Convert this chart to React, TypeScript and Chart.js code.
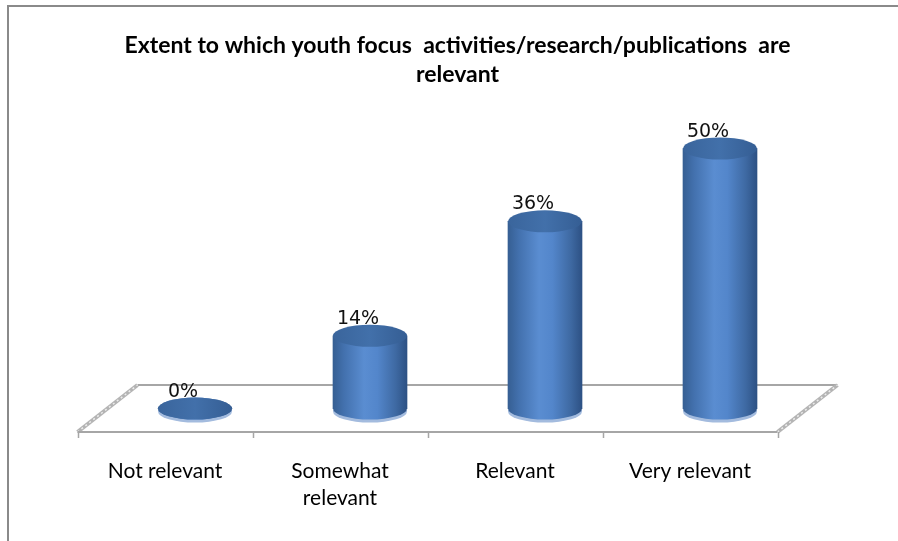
import { useEffect, useRef } from "react";
import { Chart, registerables } from "chart.js";

Chart.register(...registerables);

const categories: string[][] = [["Not relevant"], ["Somewhat", "relevant"], ["Relevant"], ["Very relevant"]];
const values: number[] = [0, 14, 36, 50];
const titleLines: string[] = ["Extent to which youth focus  activities/research/publications  are", "relevant"];
const yMin = -4.5;
const yMax = 60;

const DEPTH_X = 60;
const DEPTH_Y = 47;
const RY = 11;

function bodyGradient(ctx: CanvasRenderingContext2D, x: number, w: number) {
  const g = ctx.createLinearGradient(x - w / 2, 0, x + w / 2, 0);
  g.addColorStop(0, "#365f93");
  g.addColorStop(0.15, "#4371ae");
  g.addColorStop(0.42, "#5a8dd1");
  g.addColorStop(0.6, "#5386cb");
  g.addColorStop(0.85, "#3e69a2");
  g.addColorStop(1, "#2d5184");
  return g;
}

export default function App() {
  const ref = useRef<HTMLCanvasElement>(null);

  useEffect(() => {
    const canvas = ref.current!;

    const framePlugin = {
      id: "frame",
      beforeDraw(chart: any) {
        const c = chart.ctx;
        c.save();
        c.fillStyle = "#ffffff";
        c.fillRect(0, 0, chart.width, chart.height);
        c.fillStyle = "#8a8a8a";
        c.fillRect(7, 5, chart.width - 7, 2);
        c.fillRect(7, 5, 2, chart.height - 5);
        c.restore();
      },
    };

    const cylinderPlugin = {
      id: "cylinders",
      beforeDatasetsDraw(chart: any) {
        const c: CanvasRenderingContext2D = chart.ctx;
        const { left, right, bottom } = chart.chartArea;
        const n = categories.length;
        const step = (right - left) / n;
        const fl = left - DEPTH_X / 2;
        const fr = right - DEPTH_X / 2;
        const fy = bottom;
        const by = bottom - DEPTH_Y;
        c.save();
        // back edge
        c.strokeStyle = "#a6a6a6";
        c.lineWidth = 2;
        c.beginPath();
        c.moveTo(fl + DEPTH_X, by);
        c.lineTo(fr + DEPTH_X, by);
        c.stroke();
        // side walls
        for (const sx of [fl, fr]) {
          c.strokeStyle = "#b4b4b4";
          c.lineWidth = 4;
          c.beginPath();
          c.moveTo(sx, fy);
          c.lineTo(sx + DEPTH_X, by);
          c.stroke();
          c.strokeStyle = "#ececec";
          c.lineWidth = 1.5;
          c.setLineDash([2, 3]);
          c.beginPath();
          c.moveTo(sx, fy);
          c.lineTo(sx + DEPTH_X, by);
          c.stroke();
          c.setLineDash([]);
        }
        // front edge
        c.strokeStyle = "#a6a6a6";
        c.lineWidth = 2;
        c.beginPath();
        c.moveTo(fl, fy);
        c.lineTo(fr, fy);
        c.stroke();
        c.lineWidth = 1.5;
        for (let i = 0; i <= n; i++) {
          const tx = Math.round(fl + i * step) + 0.5;
          c.beginPath();
          c.moveTo(tx, fy);
          c.lineTo(tx, fy + 6);
          c.stroke();
        }
        // bottom of cylinders
        const meta = chart.getDatasetMeta(0);
        meta.data.forEach((el: any) => {
          const w = el.width;
          c.fillStyle = "#a3bbde";
          c.beginPath();
          c.ellipse(el.x, el.base + 3, w / 2, RY, 0, 0, Math.PI * 2);
          c.fill();
          c.fillStyle = bodyGradient(c, el.x, w);
          c.beginPath();
          c.ellipse(el.x, el.base, w / 2, RY, 0, 0, Math.PI * 2);
          c.fill();
        });
        c.restore();
      },
      afterDatasetsDraw(chart: any) {
        const c: CanvasRenderingContext2D = chart.ctx;
        const meta = chart.getDatasetMeta(0);
        c.save();
        meta.data.forEach((el: any, i: number) => {
          const w = el.width;
          const tg = c.createLinearGradient(el.x - w / 2, 0, el.x + w / 2, 0);
          tg.addColorStop(0, "#3a659c");
          tg.addColorStop(0.5, "#4270aa");
          tg.addColorStop(1, "#355e94");
          c.fillStyle = tg;
          c.beginPath();
          c.ellipse(el.x, el.y, w / 2, RY, 0, 0, Math.PI * 2);
          c.fill();
          c.fillStyle = "#111111";
          c.font = "19px 'DejaVu Sans'";
          c.textAlign = "center";
          c.textBaseline = "alphabetic";
          c.fillText(values[i] + "%", el.x - 12, el.y - RY - 1);
        });
        c.restore();
      },
    };

    const chart = new Chart(canvas, {
      type: "bar",
      data: {
        labels: categories,
        datasets: [
          {
            data: values,
            barThickness: 74,
            borderWidth: 0,
            backgroundColor: (ctx: any) => {
              const ch = ctx.chart;
              if (!ch.chartArea || ctx.dataIndex === undefined) return "#4f81bd";
              const x = ch.scales.x.getPixelForValue(ctx.dataIndex);
              return bodyGradient(ch.ctx, x, 74);
            },
          },
        ],
      },
      options: {
        responsive: false,
        animation: false,
        devicePixelRatio: 1,
        layout: { padding: { left: 107.5, right: 90.5, top: 0, bottom: 4 } },
        plugins: {
          legend: { display: false },
          tooltip: { enabled: false },
          title: {
            display: true,
            text: titleLines,
            color: "#000000",
            font: { family: "Lato", weight: "bold", size: 23, lineHeight: "29px" },
            padding: { top: 31.5, bottom: 7 },
          },
        },
        scales: {
          x: {
            grid: { display: false, drawTicks: false },
            border: { display: false },
            ticks: {
              color: "#000000",
              font: { family: "Lato", size: 21, lineHeight: "27px" },
              padding: 25.5,
              labelOffset: -DEPTH_X / 2,
              maxRotation: 0,
              autoSkip: false,
            },
          },
          y: {
            display: false,
            min: yMin,
            max: yMax,
          },
        },
      },
      plugins: [framePlugin, cylinderPlugin],
    });

    return () => chart.destroy();
  }, []);

  return (
    <div style={{ position: "absolute", left: 0, top: 0, width: 898, height: 541 }}>
      <canvas ref={ref} width={898} height={541} style={{ display: "block" }} />
    </div>
  );
}
